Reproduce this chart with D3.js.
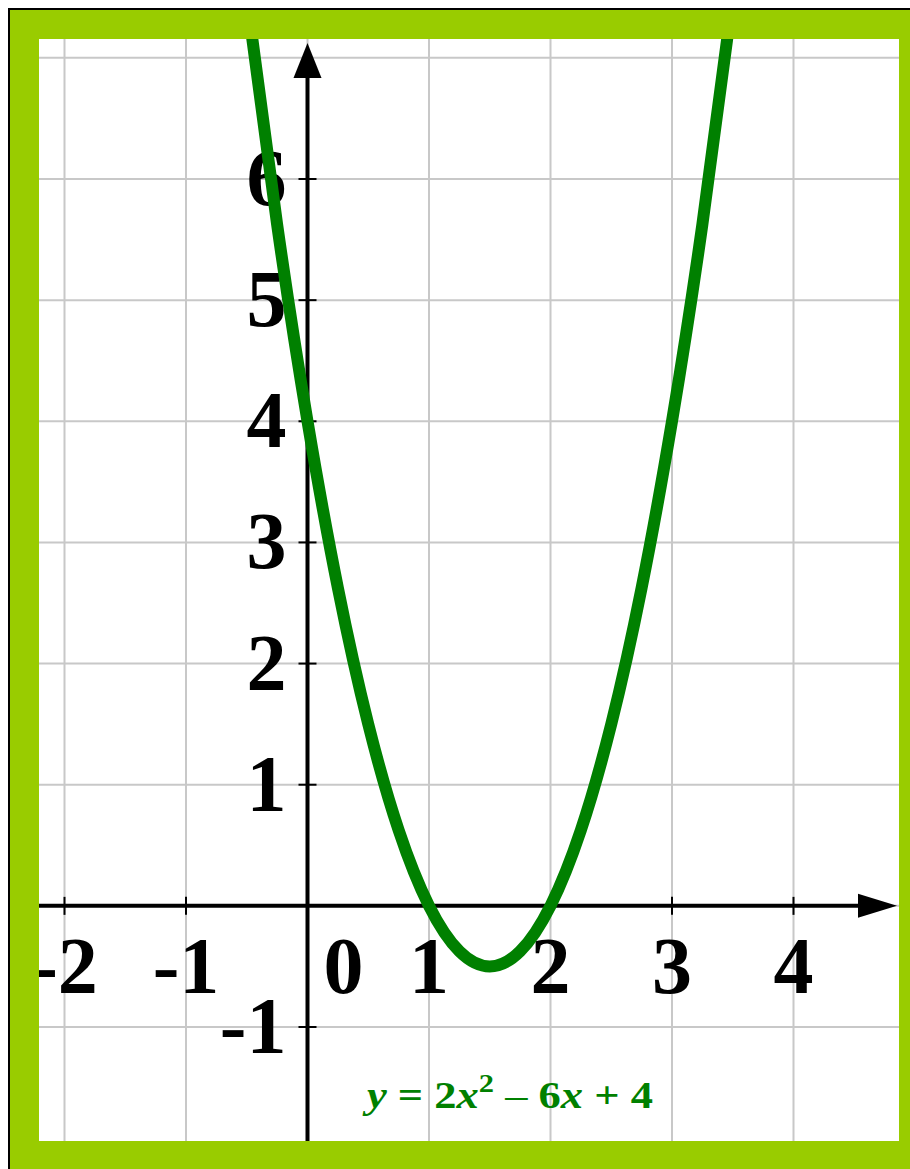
<!DOCTYPE html>
<html><head><meta charset="utf-8">
<script src="https://cdn.jsdelivr.net/npm/d3@7"></script>
<style>html,body{margin:0;padding:0;background:#fff;}svg{display:block;}</style>
</head><body>
<svg id="chart" width="910" height="1169"></svg>
<script>
// ---- data ----
const xTicks = [-2, -1, 0, 1, 2, 3, 4];
const xTickLabels = ["-2", "-1", "0", "1", "2", "3", "4"];
const yTicks = [-1, 1, 2, 3, 4, 5, 6];
const yTickLabels = ["-1", "1", "2", "3", "4", "5", "6"];
const xGrid = [-2, -1, 0, 1, 2, 3, 4];
const yGrid = [-1, 0, 1, 2, 3, 4, 5, 6, 7];
const curveX = [-0.5, -0.25, 0, 0.25, 0.5, 0.75, 1, 1.25, 1.5, 1.75, 2, 2.25, 2.5, 2.75, 3, 3.25, 3.5];
const curveY = [7.5, 5.625, 4, 2.625, 1.5, 0.625, 0, -0.375, -0.5, -0.375, 0, 0.625, 1.5, 2.625, 4, 5.625, 7.5];

// ---- layout ----
const W = 910, H = 1169;
const inner = {x0: 39, y0: 39, x1: 899, y1: 1141};
const svg = d3.select("#chart");
const x = d3.scaleLinear().domain([-2, 4]).range([64.5, 793.5]);
const y = d3.scaleLinear().domain([-1, 6]).range([1027, 179]);
const green = "#008000";
const font = "'Liberation Serif','Times New Roman',serif";

// frame
svg.append("rect").attr("x", 8).attr("y", 8).attr("width", W).attr("height", H).attr("fill", "#000");
svg.append("rect").attr("x", 10).attr("y", 10).attr("width", W).attr("height", H).attr("fill", "#99cc00");
svg.append("rect").attr("x", inner.x0).attr("y", inner.y0)
  .attr("width", inner.x1 - inner.x0).attr("height", inner.y1 - inner.y0).attr("fill", "#fff");

svg.append("clipPath").attr("id", "clip").append("rect")
  .attr("x", inner.x0).attr("y", inner.y0)
  .attr("width", inner.x1 - inner.x0).attr("height", inner.y1 - inner.y0);

const g = svg.append("g").attr("clip-path", "url(#clip)");

// grid
g.selectAll("line.vg").data(xGrid).join("line").attr("class", "vg")
  .attr("x1", d => x(d)).attr("x2", d => x(d))
  .attr("y1", inner.y0).attr("y2", inner.y1)
  .attr("stroke", "#c8c8c8").attr("stroke-width", 2);
g.selectAll("line.hg").data(yGrid).join("line").attr("class", "hg")
  .attr("y1", d => y(d)).attr("y2", d => y(d))
  .attr("x1", inner.x0).attr("x2", inner.x1)
  .attr("stroke", "#c8c8c8").attr("stroke-width", 2);

// axes
const xAxisY = y(0), yAxisX = x(0);
g.append("line").attr("x1", inner.x0).attr("x2", 862).attr("y1", xAxisY).attr("y2", xAxisY)
  .attr("stroke", "#000").attr("stroke-width", 4);
g.append("line").attr("x1", yAxisX).attr("x2", yAxisX).attr("y1", 74).attr("y2", inner.y1)
  .attr("stroke", "#000").attr("stroke-width", 4);
// arrows
g.append("path").attr("d", `M${yAxisX},43 L${yAxisX - 14},78 L${yAxisX + 14},78 Z`).attr("fill", "#000");
g.append("path").attr("d", `M897,${xAxisY} L858,${xAxisY - 12} L858,${xAxisY + 12} Z`).attr("fill", "#000");

// tick marks
g.selectAll("line.xt").data(xTicks.filter(d => d !== 0)).join("line").attr("class", "xt")
  .attr("x1", d => x(d)).attr("x2", d => x(d))
  .attr("y1", xAxisY - 9).attr("y2", xAxisY + 9)
  .attr("stroke", "#000").attr("stroke-width", 2);
g.selectAll("line.yt").data(yTicks).join("line").attr("class", "yt")
  .attr("y1", d => y(d)).attr("y2", d => y(d))
  .attr("x1", yAxisX - 9).attr("x2", yAxisX + 9)
  .attr("stroke", "#000").attr("stroke-width", 2);

// tick labels
g.selectAll("text.xl").data(xTicks).join("text").attr("class", "xl")
  .attr("x", (d, i) => d === 0 ? x(d) + 36 : x(d))
  .attr("y", 993)
  .attr("text-anchor", "middle")
  .attr("font-family", font).attr("font-weight", "bold").attr("font-size", 80)
  .attr("fill", "#000")
  .text((d, i) => xTickLabels[i]);
g.selectAll("text.yl").data(yTicks).join("text").attr("class", "yl")
  .attr("x", yAxisX - 21)
  .attr("y", d => y(d) + 26)
  .attr("text-anchor", "end")
  .attr("font-family", font).attr("font-weight", "bold").attr("font-size", 80)
  .attr("fill", "#000")
  .text((d, i) => yTickLabels[i]);

// equation label
const eq = g.append("text").attr("x", 367).attr("y", 1108)
  .attr("font-family", font).attr("font-weight", "bold").attr("font-size", 38).attr("fill", green)
  .attr("textLength", 286).attr("lengthAdjust", "spacingAndGlyphs");
eq.append("tspan").attr("font-style", "italic").text("y");
eq.append("tspan").text(" = 2");
eq.append("tspan").attr("font-style", "italic").text("x");
eq.append("tspan").attr("font-size", 26).attr("dy", -16).text("2");
eq.append("tspan").attr("dy", 16).attr("font-weight", "normal").text(" \u2013 ");
eq.append("tspan").text("6");
eq.append("tspan").attr("font-style", "italic").text("x");
eq.append("tspan").text(" + 4");

// curve
const pts = curveX.map((v, i) => [v, curveY[i]]);
const line = d3.line().x(d => x(d[0])).y(d => y(d[1])).curve(d3.curveNatural);
g.append("path").datum(pts).attr("d", line)
  .attr("fill", "none").attr("stroke", green).attr("stroke-width", 12)
  .attr("stroke-linejoin", "round");
</script>
</body></html>
